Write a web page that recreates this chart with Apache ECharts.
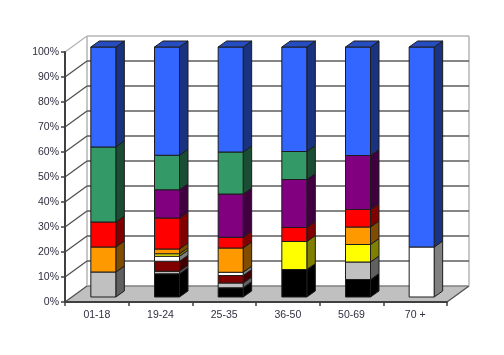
<!DOCTYPE html>
<html>
<head>
    <meta charset="utf-8">
    <title>chart</title>
    <style>
        html, body { margin: 0; padding: 0; background: #fff; }
        #chart { width: 504px; height: 355px; }
    </style>
</head>
<body>
<div id="chart"></div>
<script src="https://cdn.jsdelivr.net/npm/echarts@6/dist/echarts.min.js"></script>
<script>
    var categories = ['01-18', '19-24', '25-35', '36-50', '50-69', '70 +'];
    var yTicks = [0, 10, 20, 30, 40, 50, 60, 70, 80, 90, 100];

    // one list per colour band, bottom of the stack first
    var blackBand   = [0, 9.3, 3.7, 11, 7, 0];
    var grayBand    = [10, 1, 1.9, 0, 7, 0];
    var darkRedBand = [0, 4, 3, 0, 0, 0];
    var whiteBand   = [0, 2, 1.3, 0, 0, 20];
    var yellowBand  = [0, 1, 0, 11.2, 7, 0];
    var orangeBand  = [10, 1.9, 9.7, 0, 7, 0];
    var redBand     = [10, 12.4, 4.3, 5.6, 7, 0];
    var purpleBand  = [0, 11.3, 17.3, 19.2, 21.6, 0];
    var greenBand   = [30, 13.8, 16.8, 11.2, 0, 0];
    var blueBand    = [40, 43.3, 42, 41.8, 43.4, 80];

    var bands = [
        {values: blackBand, front: '#000000', side: '#000000', top: '#000000'},
        {values: grayBand, front: '#c0c0c0', side: '#606060', top: '#909090'},
        {values: darkRedBand, front: '#800000', side: '#400000', top: '#600000'},
        {values: whiteBand, front: '#ffffff', side: '#808080', top: '#c0c0c0'},
        {values: yellowBand, front: '#ffff00', side: '#808000', top: '#c0c000'},
        {values: orangeBand, front: '#ff9900', side: '#804d00', top: '#c07300'},
        {values: redBand, front: '#ff0000', side: '#800000', top: '#c00000'},
        {values: purpleBand, front: '#800080', side: '#400040', top: '#600060'},
        {values: greenBand, front: '#339966', side: '#1a4d33', top: '#267350'},
        {values: blueBand, front: '#3366ff', side: '#1a3380', top: '#264dbf'}
    ];

    // depth of the box and of the bars, in pixels
    var wallDx = 22, wallDy = 16;
    var barOffX = 6.5, barOffY = 5, barDx = 8.5, barDy = 6, barW = 25;

    var chart = echarts.init(document.getElementById('chart'));

    function poly(points, fill, stroke) {
        return {
            type: 'polygon',
            shape: {points: points},
            style: {fill: fill, stroke: stroke || null, lineWidth: 1}
        };
    }

    function line(x1, y1, x2, y2, color, width) {
        return {
            type: 'line',
            shape: {x1: x1, y1: y1, x2: x2, y2: y2},
            style: {stroke: color, lineWidth: width || 1}
        };
    }

    // floor and back wall lines
    function renderFloor(params, api) {
        var box = params.coordSys;
        var p = api.coord([0, 0]);
        var l = box.x, r = box.x + box.width, y = p[1];
        return {
            type: 'group',
            children: [
                poly([[l, y], [l + wallDx, y - wallDy], [r + wallDx, y - wallDy], [r, y]], '#c0c0c0'),
                line(l + wallDx, y - wallDy, r + wallDx, y - wallDy, '#808080', 1.5),
                line(r, y, r + wallDx, y - wallDy, '#505050', 1.2),
                line(l + wallDx, box.y - wallDy, l + wallDx, y - wallDy, '#b4b4b4', 1.5),
                line(r + wallDx, box.y - wallDy, r + wallDx, y - wallDy, '#b4b4b4', 1.5)
            ]
        };
    }

    function renderGridLine(params, api) {
        var box = params.coordSys;
        var v = api.value(1);
        var y = api.coord([0, v])[1];
        var l = box.x, r = box.x + box.width;
        var color = v === 100 ? '#b4b4b4' : '#505050';
        var kids = [line(l, y, l + wallDx, y - wallDy, color, 1.3)];
        if (v > 0) {
            kids.push(line(l + wallDx, y - wallDy, r + wallDx, y - wallDy, v === 100 ? '#b4b4b4' : '#5c5c5c', 1.6));
        }
        return {type: 'group', children: kids};
    }

    function makeBarRenderer(band) {
        return function (params, api) {
            var cx = api.coord([api.value(0), 0])[0];
            var y0 = api.coord([0, api.value(1)])[1] - barOffY;
            var y1 = api.coord([0, api.value(2)])[1] - barOffY;
            var x0 = cx + barOffX - barW / 2;
            var x1 = x0 + barW;
            var edge = '#1c1c1c';
            var kids = [
                poly([[x1, y0], [x1 + barDx, y0 - barDy], [x1 + barDx, y1 - barDy], [x1, y1]], band.side, edge),
                poly([[x0, y0], [x1, y0], [x1, y1], [x0, y1]], band.front, edge)
            ];
            if (api.value(2) >= 99.9) {
                kids.push(poly([[x0, y1], [x0 + barDx, y1 - barDy], [x1 + barDx, y1 - barDy], [x1, y1]], band.top, edge));
            }
            return {type: 'group', children: kids};
        };
    }

    var series = [
        {
            type: 'custom',
            renderItem: renderFloor,
            data: [[0, 0]],
            encode: {x: 0, y: 1},
            clip: false,
            silent: true,
            z: 1
        },
        {
            type: 'custom',
            renderItem: renderGridLine,
            data: yTicks.map(function (t) { return [0, t]; }),
            encode: {x: 0, y: 1},
            clip: false,
            silent: true,
            z: 2
        }
    ];

    var running = categories.map(function () { return 0; });
    bands.forEach(function (band, b) {
        var data = [];
        band.values.forEach(function (v, i) {
            if (v > 0) {
                data.push([i, running[i], running[i] + v]);
                running[i] += v;
            }
        });
        series.push({
            type: 'custom',
            renderItem: makeBarRenderer(band),
            data: data,
            encode: {x: 0, y: [1, 2]},
            clip: false,
            silent: true,
            z: 3 + b
        });
    });

    chart.setOption({
        animation: false,
        backgroundColor: '#ffffff',
        grid: {left: 65, right: 57, top: 52, bottom: 53, containLabel: false},
        xAxis: {
            type: 'category',
            data: categories,
            axisLine: {show: true, lineStyle: {color: '#404040', width: 2}},
            axisTick: {show: true, length: 4, lineStyle: {color: '#404040', width: 1.5}},
            axisLabel: {color: '#2f2f40', fontFamily: 'Liberation Sans', fontSize: 10.5, margin: 8},
            z: 20
        },
        yAxis: {
            type: 'value',
            min: 0,
            max: 100,
            interval: 10,
            splitLine: {show: false},
            axisLine: {show: true, lineStyle: {color: '#404040', width: 2}},
            axisTick: {show: true, length: 4, lineStyle: {color: '#404040', width: 1.5}},
            axisLabel: {color: '#2f2f40', fontFamily: 'Liberation Sans', fontSize: 10.5, margin: 6, formatter: '{value}%'},
            z: 20
        },
        series: series
    });
</script>
</body>
</html>
